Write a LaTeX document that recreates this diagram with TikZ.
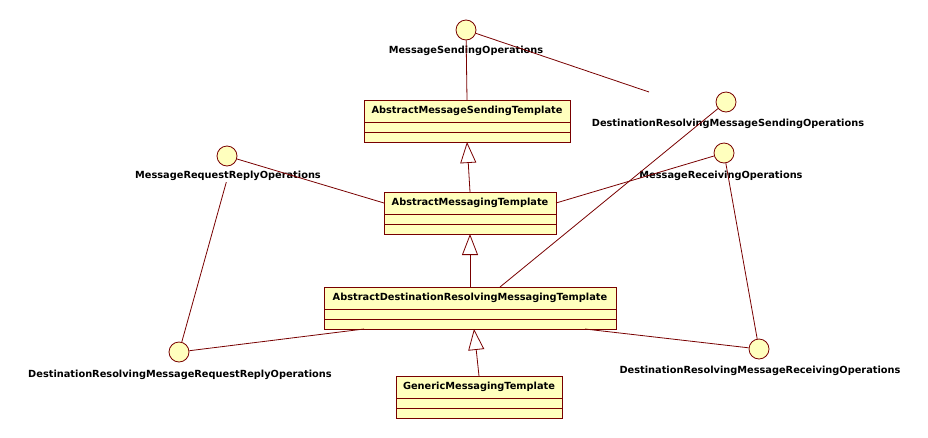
\documentclass[tikz,border=0pt]{standalone}
\usepackage{fontspec}
\setmainfont{DejaVu Sans}
\usetikzlibrary{positioning,arrows.meta}
\definecolor{umlline}{RGB}{120,0,0}
\definecolor{umlfill}{RGB}{255,255,190}
\begin{document}
\begin{tikzpicture}[x=1pt, y=-1pt, line width=0.8pt,
        iface/.style={circle, draw=umlline, fill=umlfill, minimum size=20pt, inner sep=0pt},
        lbl/.style={font=\fontsize{9.8}{11}\selectfont\bfseries, inner sep=1pt},
        cls/.style={rectangle, draw=umlline, fill=umlfill, minimum height=22pt, inner sep=0pt, outer sep=0pt, font=\fontsize{9.8}{11}\selectfont\bfseries},
        cpt/.style={rectangle, draw=umlline, fill=umlfill, minimum height=10pt, inner sep=0pt, outer sep=0pt},
        conn/.style={draw=umlline},
        gen/.style={draw=umlline, -{Triangle[open, length=21pt, width=16pt]}}]
        \useasboundingbox (0,0) rectangle (928,437);
        % interfaces
        \node[iface] (mso) at (466, 30) {};
        \node[lbl] (msol) at (466, 51) {MessageSendingOperations};
        \node[iface] (drso) at (726, 102) {};
        \node[lbl] (drsol) at (728, 124) {DestinationResolvingMessageSendingOperations};
        \node[iface] (mrro) at (227, 156) {};
        \node[lbl] (mrrol) at (228, 176) {MessageRequestReplyOperations};
        \node[iface] (mro) at (724, 153) {};
        \node[lbl] (mrol) at (721, 176) {MessageReceivingOperations};
        \node[iface] (drrr) at (179, 352) {};
        \node[lbl] (drrrl) at (180, 375) {DestinationResolvingMessageRequestReplyOperations};
        \node[iface] (drro) at (759, 349) {};
        \node[lbl] (drrol) at (760, 371) {DestinationResolvingMessageReceivingOperations};
        \coordinate (loose) at (649, 92);
        % classes
        \node[cls, minimum width=206pt] (ams) at (467, 111) {AbstractMessageSendingTemplate};
        \node[cpt, minimum width=206pt, below=0pt of ams] (ams1) {};
        \node[cpt, minimum width=206pt, below=0pt of ams1] (ams2) {};
        \node[cls, minimum width=172pt] (am) at (470, 203) {AbstractMessagingTemplate};
        \node[cpt, minimum width=172pt, below=0pt of am] (am1) {};
        \node[cpt, minimum width=172pt, below=0pt of am1] (am2) {};
        \node[cls, minimum width=292pt] (adr) at (470, 298) {AbstractDestinationResolvingMessagingTemplate};
        \node[cpt, minimum width=292pt, below=0pt of adr] (adr1) {};
        \node[cpt, minimum width=292pt, below=0pt of adr1] (adr2) {};
        \node[cls, minimum width=166pt] (gmt) at (479, 387) {GenericMessagingTemplate};
        \node[cpt, minimum width=166pt, below=0pt of gmt] (gmt1) {};
        \node[cpt, minimum width=166pt, below=0pt of gmt1] (gmt2) {};
        % generalisations
        \draw[gen] (am.north) -- (ams2.south);
        \draw[gen] (adr.north) -- (am2.south);
        \draw[gen] (gmt.north) -- ([xshift=4pt]adr2.south);
        % realisations
        \draw[conn] (mso) -- (ams.north);
        \draw[conn] (mso) -- (loose);
        \draw[conn] (mrro) -- (am.west);
        \draw[conn] (mro) -- (am.east);
        \draw[conn] (drso) -- ([xshift=30pt]adr.north);
        \draw[conn] (drrr) -- ([xshift=40pt]adr2.south west);
        \draw[conn] (drro) -- ([xshift=-31pt]adr2.south east);
        \draw[conn] (mrrol) -- (drrr);
        \draw[conn] (mro) -- (drro);
    \end{tikzpicture}
\end{document}
